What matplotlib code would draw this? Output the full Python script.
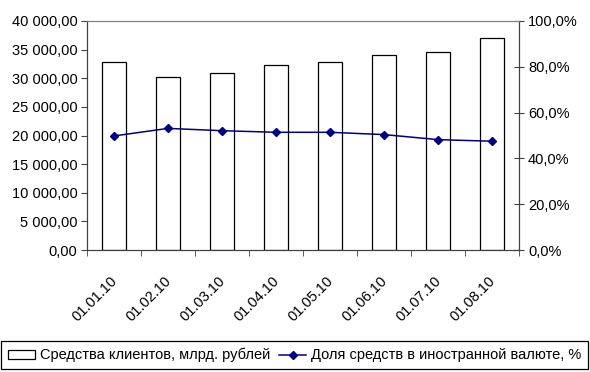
import matplotlib
matplotlib.use("Agg")
from matplotlib import pyplot as plt
from matplotlib.ticker import FuncFormatter, FixedLocator
from matplotlib.transforms import ScaledTranslation
import numpy as np

dates = ["01.01.10", "01.02.10", "01.03.10", "01.04.10",
         "01.05.10", "01.06.10", "01.07.10", "01.08.10"]
funds = [32840, 30160, 30860, 32310, 32840, 34000, 34640, 37090]
fx_share = [49.8, 53.1, 52.1, 51.4, 51.4, 50.4, 48.2, 47.5]

plt.rcParams['font.family'] = ['Liberation Sans', 'DejaVu Sans']
plt.rcParams['font.size'] = 10.5

fig = plt.figure(figsize=(5.9, 3.72), dpi=100)
fig.subplots_adjust(left=87 / 590, right=519 / 590, top=1 - 21 / 372, bottom=1 - 250 / 372)
ax = fig.add_subplot(111)
ax2 = ax.twinx()

x = np.arange(len(dates))
ax.bar(x, funds, width=0.43, color='white', edgecolor='black', linewidth=0.9,
       label='Средства клиентов, млрд. рублей', zorder=2)
ax2.plot(x, fx_share, color='#000080', marker='D', markersize=4.5, linewidth=1.1,
         label='Доля средств в иностранной валюте, %')

ax.set_xlim(-0.5, len(dates) - 0.5)
ax.set_ylim(0, 40000)
ax2.set_ylim(0, 100)
ax.set_yticks(np.arange(0, 40001, 5000))
ax2.set_yticks(np.arange(0, 101, 20))

def rub(v, pos):
    return '{:,.2f}'.format(v).replace(',', ' ').replace('.', ',')

def pct(v, pos):
    return '{:.1f}%'.format(v).replace('.', ',')

ax.yaxis.set_major_formatter(FuncFormatter(rub))
ax2.yaxis.set_major_formatter(FuncFormatter(pct))

ax.set_xticks(x)
ax.set_xticklabels(dates, rotation=45, ha='right', rotation_mode='anchor')
ax.xaxis.set_minor_locator(FixedLocator(np.arange(-0.5, len(dates), 1)))
ax.tick_params(axis='x', which='major', length=0, pad=17)
ax.tick_params(axis='x', which='minor', length=4, color='#404040')
ax.tick_params(axis='y', length=4, color='#404040', pad=3)
ax2.tick_params(axis='y', direction='inout', length=7, color='#404040', pad=3)
shift = ScaledTranslation(-4 / 100, 0, fig.dpi_scale_trans)
for lab in ax.get_xticklabels():
    lab.set_transform(lab.get_transform() + shift)

for a in (ax, ax2):
    a.spines['top'].set_color('#808080')
    a.spines['left'].set_color('#404040')
    a.spines['right'].set_color('#404040')
    a.spines['bottom'].set_color('#404040')

h1, l1 = ax.get_legend_handles_labels()
h2, l2 = ax2.get_legend_handles_labels()
leg = fig.legend(h1 + h2, l1 + l2, ncol=2, loc='lower left',
                 bbox_to_anchor=(1 / 590, 3 / 372), borderaxespad=0,
                 fancybox=False, edgecolor='black', framealpha=1,
                 handlelength=1.9, handleheight=0.55, handletextpad=0.3,
                 columnspacing=0.6, borderpad=0.45)
leg.get_frame().set_linewidth(0.9)

plt.savefig('out.png', dpi=100)
